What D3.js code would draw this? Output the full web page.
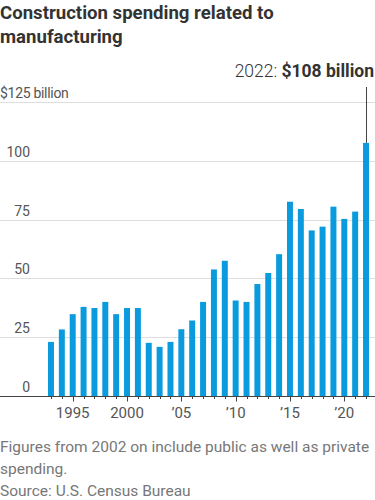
<!DOCTYPE html>
<html>
<head>
<meta charset="utf-8">
<script src="https://cdn.jsdelivr.net/npm/d3@7"></script>
<style>
  html, body { margin: 0; padding: 0; background: #fff; }
  svg { display: block; font-family: Roboto, "Noto Sans", sans-serif; }
</style>
</head>
<body>
<div id="chart"></div>
<script>
var width = 375, height = 500;

// construction spending related to manufacturing, $ billion
var years = [1993, 1994, 1995, 1996, 1997, 1998, 1999, 2000, 2001, 2002,
             2003, 2004, 2005, 2006, 2007, 2008, 2009, 2010, 2011, 2012,
             2013, 2014, 2015, 2016, 2017, 2018, 2019, 2020, 2021, 2022];
var spending = [23.0, 28.3, 34.8, 37.9, 37.4, 40.0, 34.8, 37.4, 37.4, 22.6,
                20.9, 23.0, 28.4, 32.1, 40.0, 53.8, 57.5, 40.6, 40.0, 47.6,
                52.3, 60.3, 82.6, 79.5, 70.4, 72.0, 80.5, 75.3, 78.4, 107.6];
var yTicks = [0, 25, 50, 75, 100, 125];
var xLabelYears = [1995, 2000, 2005, 2010, 2015, 2020];
var xLabels = ['1995', '2000', '\u201905', '\u201910', '\u201915', '\u201920'];

var data = years.map(function (y, i) { return { year: y, value: spending[i] }; });

var svg = d3.select('#chart').append('svg')
    .attr('width', width)
    .attr('height', height);

var x = d3.scaleBand()
    .domain(years)
    .range([43.1, 373.9])
    .padding(0.45);

var y = d3.scaleLinear()
    .domain([0, 125])
    .range([396, 102]);

// title
var title = svg.append('text')
    .attr('fill', '#333')
    .attr('font-weight', 700)
    .attr('font-size', 18.6);
title.append('tspan').attr('x', 0).attr('y', 19).text('Construction spending related to');
title.append('tspan').attr('x', 0).attr('y', 43).text('manufacturing');

// gridlines
svg.append('g').selectAll('line')
    .data(yTicks.filter(function (d) { return d > 0; }))
    .enter().append('line')
    .attr('x1', 0)
    .attr('x2', width)
    .attr('y1', function (d) { return Math.round(y(d)) + 0.5; })
    .attr('y2', function (d) { return Math.round(y(d)) + 0.5; })
    .attr('stroke', '#dedede')
    .attr('stroke-width', 1);

// y labels
svg.append('g').selectAll('text')
    .data(yTicks)
    .enter().append('text')
    .attr('x', function (d) { return d === 125 ? 0 : 30; })
    .attr('y', function (d) { return Math.round(y(d)) - 4.5; })
    .attr('text-anchor', function (d) { return d === 125 ? 'start' : 'end'; })
    .attr('fill', '#555')
    .attr('font-size', 14)
    .attr('letter-spacing', function (d) { return d === 125 ? -0.3 : 0; })
    .text(function (d) { return d === 125 ? '$125 billion' : d; });

// bars
svg.append('g').selectAll('rect')
    .data(data)
    .enter().append('rect')
    .attr('x', function (d) { return x(d.year); })
    .attr('width', x.bandwidth())
    .attr('y', function (d) { return y(d.value); })
    .attr('height', function (d) { return y(0) - y(d.value); })
    .attr('fill', '#0a9ade');

// x axis line and ticks
var base = Math.round(y(0)) + 0.5;
svg.append('line')
    .attr('x1', 0).attr('x2', width)
    .attr('y1', base).attr('y2', base)
    .attr('stroke', '#444');

svg.append('g').selectAll('line')
    .data(years)
    .enter().append('line')
    .attr('x1', function (d) { return Math.round(x(d) + x.bandwidth() / 2) + 0.5; })
    .attr('x2', function (d) { return Math.round(x(d) + x.bandwidth() / 2) + 0.5; })
    .attr('y1', base)
    .attr('y2', function (d) { return base + (d % 5 === 0 ? 5 : 2.5); })
    .attr('stroke', '#444');

svg.append('g').selectAll('text')
    .data(xLabelYears)
    .enter().append('text')
    .attr('x', function (d) { return x(d) + x.bandwidth() / 2; })
    .attr('y', 418)
    .attr('text-anchor', 'middle')
    .attr('fill', '#555')
    .attr('font-size', 15)
    .text(function (d, i) { return xLabels[i]; });

// annotation for last bar
var last = data[data.length - 1];
var lx = Math.round(x(last.year) + x.bandwidth() / 2) + 0.5;
svg.append('line')
    .attr('x1', lx).attr('x2', lx)
    .attr('y1', 87)
    .attr('y2', y(last.value))
    .attr('stroke', '#444');

var ann = svg.append('text')
    .attr('x', 374)
    .attr('y', 77)
    .attr('text-anchor', 'end')
    .attr('fill', '#333')
    .attr('font-size', 17.5);
ann.append('tspan').attr('font-weight', 300).text('2022: ');
ann.append('tspan').attr('font-weight', 700).text('$108 billion');

// footnote
var note = svg.append('text')
    .attr('fill', '#777')
    .attr('font-size', 15.5);
note.append('tspan').attr('x', 0).attr('y', 452).text('Figures from 2002 on include public as well as private');
note.append('tspan').attr('x', 0).attr('y', 474).text('spending.');
note.append('tspan').attr('x', 0).attr('y', 496).text('Source: U.S. Census Bureau');
</script>
</body>
</html>
